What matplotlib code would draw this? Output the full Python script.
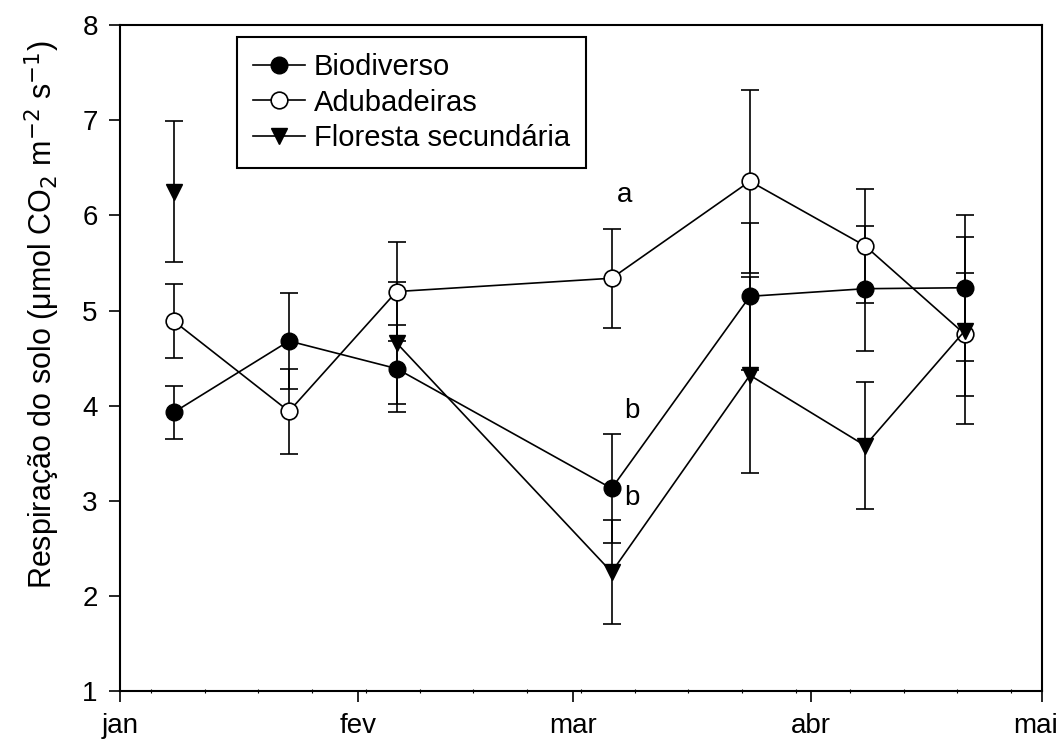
import numpy as np
import matplotlib
matplotlib.use("Agg")
from matplotlib import pyplot as plt
from matplotlib.lines import Line2D
import matplotlib.dates as mdates
import matplotlib.transforms as mtransforms
from datetime import datetime

plt.rcParams['font.family'] = ['Liberation Sans', 'DejaVu Sans']

# sampling dates
dates = [datetime(2011, 1, 8), datetime(2011, 1, 23), datetime(2011, 2, 6),
         datetime(2011, 3, 6), datetime(2011, 3, 24), datetime(2011, 4, 8),
         datetime(2011, 4, 21)]

bio = [3.93, 4.68, 4.39, 3.13, 5.15, 5.23, 5.24]
bio_err = [0.28, 0.50, 0.46, 0.57, 0.77, 0.66, 0.77]

adub = [4.89, 3.94, 5.20, 5.34, 6.36, 5.68, 4.75]
adub_err = [0.39, 0.45, 0.52, 0.52, 0.96, 0.60, 0.65]

flor = [6.25, np.nan, 4.66, 2.25, 4.32, 3.58, 4.79]
flor_err = [0.74, np.nan, 0.64, 0.55, 1.03, 0.67, 0.98]

month_labels = ['jan', 'fev', 'mar', 'abr', 'mai']
month_ticks = [datetime(2011, m, 1) for m in range(1, 6)]

letters = ['a', 'b', 'b']
letter_pos = [(datetime(2011, 3, 7, 16), 6.22), (datetime(2011, 3, 8, 15), 3.94),
              (datetime(2011, 3, 8, 15), 3.03)]

fig = plt.figure(figsize=(10.62, 7.43), dpi=100)
ax = fig.add_axes([0.113, 0.070, 0.868, 0.896])

ekw = dict(color='black', lw=1.2, elinewidth=1.2, capsize=6.5, capthick=1.2, ms=12)
ax.errorbar(dates, bio, yerr=bio_err, fmt='-o', mfc='black', mec='black', zorder=3, **ekw)
ax.errorbar(dates, adub, yerr=adub_err, fmt='-o', mfc='white', mec='black', mew=1.2,
            zorder=3, **ekw)
ax.errorbar(dates, flor, yerr=flor_err, fmt='-v', mfc='black', mec='black', zorder=3, **ekw)

for t, (xd, yv) in zip(letters, letter_pos):
    ax.text(xd, yv, t, fontsize=20, ha='center', va='center')

ax.set_xlim(datetime(2011, 1, 1), datetime(2011, 5, 1))
ax.set_ylim(1, 8)
ax.set_xticks(month_ticks)
ax.set_xticklabels(month_labels)
ax.xaxis.set_minor_locator(mdates.WeekdayLocator(byweekday=mdates.WE))
ax.set_yticks(range(1, 9))

ax.tick_params(axis='both', which='major', direction='out', length=8, width=1.2,
               labelsize=20)
ax.tick_params(axis='x', which='major', pad=8)
ax.tick_params(axis='y', which='major', pad=8)
ax.tick_params(axis='x', which='minor', direction='inout', length=3, width=0.8)
for sp in ax.spines.values():
    sp.set_linewidth(1.5)

# keep the last month label inside the figure
last = ax.get_xticklabels()[-1]
last.set_transform(last.get_transform() +
                   mtransforms.ScaledTranslation(-6 / 100, 0, fig.dpi_scale_trans))

ax.set_ylabel('Respiração do solo (μmol CO$_2$ m$^{-2}$ s$^{-1}$)', fontsize=22)
ax.yaxis.set_label_coords(-0.063, 0.565)

handles = [
    Line2D([], [], color='black', lw=1.2, marker='o', ms=12, mfc='black', mec='black'),
    Line2D([], [], color='black', lw=1.2, marker='o', ms=12, mfc='white', mec='black', mew=1.2),
    Line2D([], [], color='black', lw=1.2, marker='v', ms=12, mfc='black', mec='black'),
]
names = ['Biodiverso', 'Adubadeiras', 'Floresta secundária']
leg = ax.legend(handles, names, loc='upper left', bbox_to_anchor=(0.1265, 0.982),
                borderaxespad=0, fontsize=21, fancybox=False, edgecolor='black',
                framealpha=1, handlelength=1.8, borderpad=0.55, labelspacing=0.25,
                handletextpad=0.3)
leg.get_frame().set_linewidth(1.5)

fig.savefig('out.png', dpi=100)
